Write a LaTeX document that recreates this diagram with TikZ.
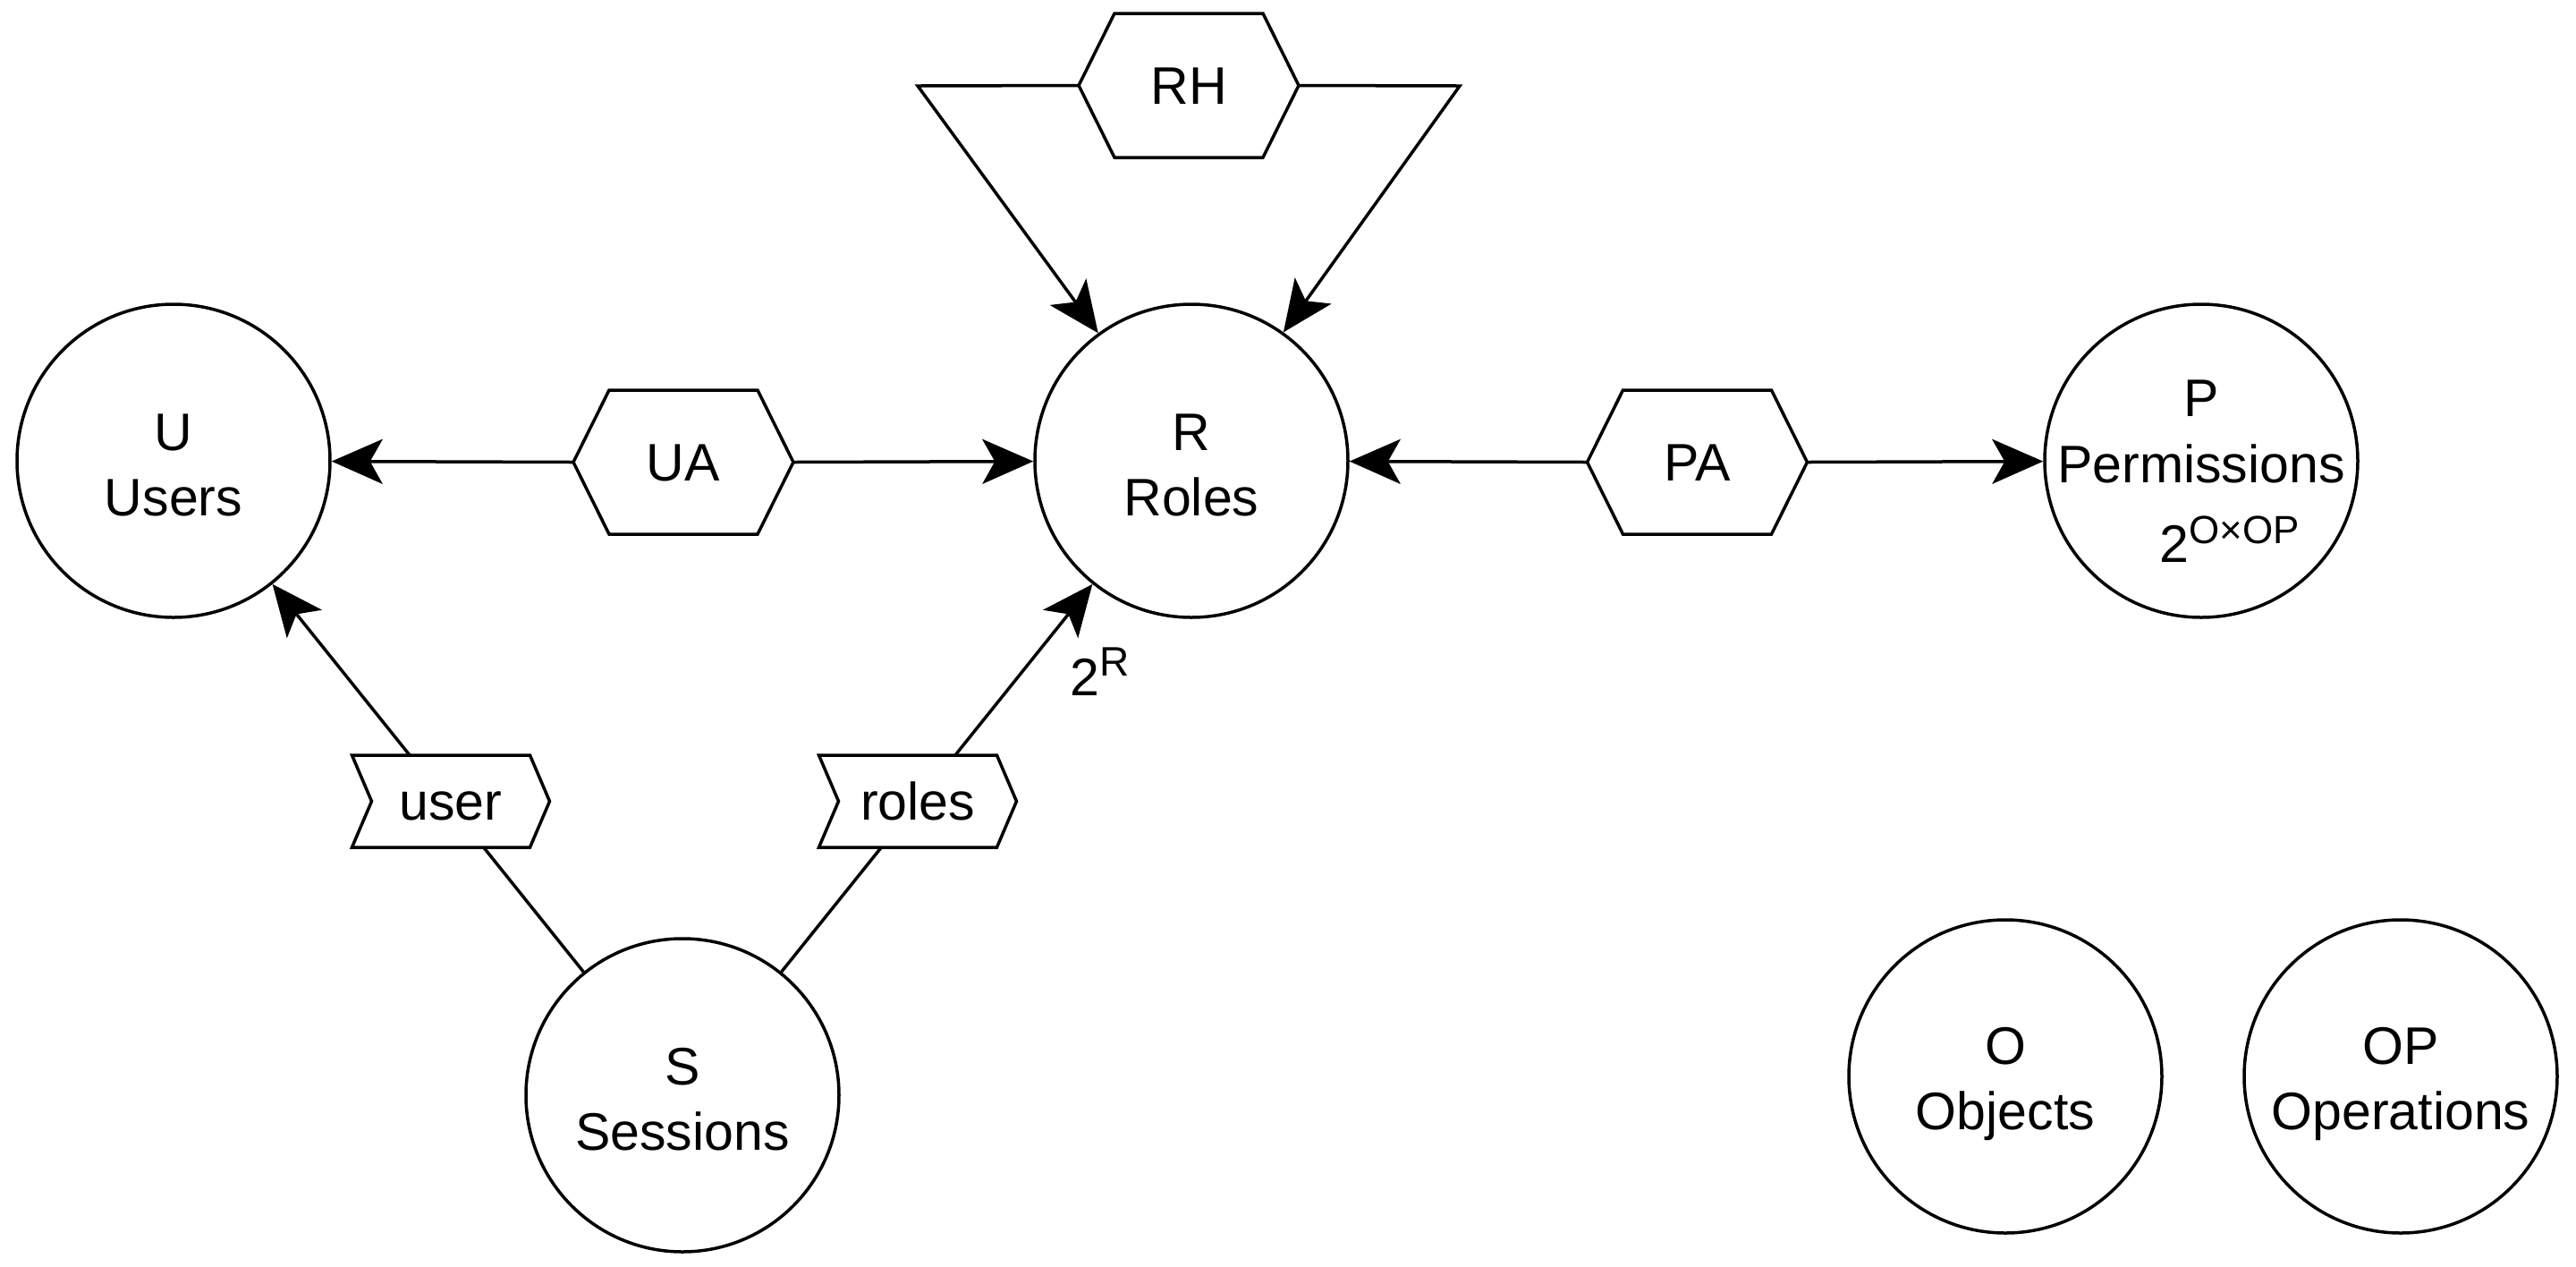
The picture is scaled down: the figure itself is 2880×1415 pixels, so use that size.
\documentclass[tikz,border=0pt]{standalone}
\usepackage{fontspec}
\setmainfont{Liberation Sans}
\usetikzlibrary{arrows.meta}
\newcommand\mysup[3]{\raisebox{#2}{\fontsize{#3}{#3}\selectfont #1}}
\newcommand\zw[1]{\makebox[0pt]{#1}}
\newcommand\hexoutline[1]{\draw[outline] (#1.west) -- ([xshift=4mm]#1.north west) -- ([xshift=-4mm]#1.north east) -- (#1.east) -- ([xshift=-4mm]#1.south east) -- ([xshift=4mm]#1.south west) -- cycle;}
\newcommand\stepoutline[1]{\draw[outline] (#1.north west) -- ([xshift=-2.2mm]#1.north east) -- (#1.east) -- ([xshift=-2.2mm]#1.south east) -- (#1.south west) -- ([xshift=2.2mm]#1.west) -- cycle;}
\begin{document}
\begin{tikzpicture}[x=0.1mm,y=-0.1mm,
  every node/.style={font=\fontsize{16.8pt}{20.8pt}\selectfont},
  ent/.style={circle,draw,line width=0.35mm,minimum size=35mm,inner sep=0pt,align=center,text depth=0pt},
  hexbox/.style={minimum width=24.6mm,minimum height=16.1mm,inner sep=0pt,outer sep=0pt,text height=4.2mm,text depth=0pt},
  stepbox/.style={minimum width=22.1mm,minimum height=10.3mm,inner sep=0pt,outer sep=0pt,fill=white,text height=4.2mm,text depth=0pt},
  outline/.style={draw,line width=0.35mm,line join=miter},
  conn/.style={line width=0.35mm},
  arr/.style={conn,-{Stealth[length=5.7mm,width=5mm,inset=1.4mm]}},
]
\useasboundingbox (0,0) rectangle (2880,1415);

% entity circles
\node[ent] (U) at (194,515) {\rule{0pt}{5mm}U\\Users};
\node[ent] (R) at (1332,515) {\rule{0pt}{5mm}R\\Roles};
\node[ent] (P) at (2461,515) {\zw{\rule{0pt}{6.4mm}P}\\\zw{Permissions}\\[1.6mm]\zw{\hspace*{6.4mm}2\mysup{O×OP}{2.1mm}{12.5pt}}};
\node[ent] (S) at (763,1224) {\rule{0pt}{5mm}S\\Sessions};
\node[ent] (O) at (2242,1203) {\rule{0pt}{4.6mm}O\\Objects};
\node[ent] (OP) at (2684,1203) {\rule{0pt}{4.6mm}OP\\Operations};

% relation hexagons
\node[hexbox] (UA) at (764,516.5) {UA};
\node[hexbox] (PA) at (1897.5,516.5) {PA};
\node[hexbox] (RH) at (1329,95.5) {RH};
\hexoutline{UA}
\hexoutline{PA}
\hexoutline{RH}

% label
\node[inner sep=0pt,anchor=base west] (twoR) at (1196,777) {2\mysup{R}{2.2mm}{13.1pt}};

% connectors
\coordinate (rhL) at (1026,96);
\coordinate (rhR) at (1632,96);
\draw[arr] (UA.west) -- (U);
\draw[arr] (UA.east) -- (R);
\draw[arr] (PA.west) -- (R);
\draw[arr] (PA.east) -- (P);
\draw[arr] (RH.west) -- (rhL) -- (R);
\draw[arr] (RH.east) -- (rhR) -- (R);
\draw[arr] (S) -- (U);
\draw[arr] (S) -- (R);

% function labels on the session edges
\node[stepbox] (user) at (504,895.5) {user};
\node[stepbox] (roles) at (1026,895.5) {roles};
\stepoutline{user}
\stepoutline{roles}
\end{tikzpicture}
\end{document}
